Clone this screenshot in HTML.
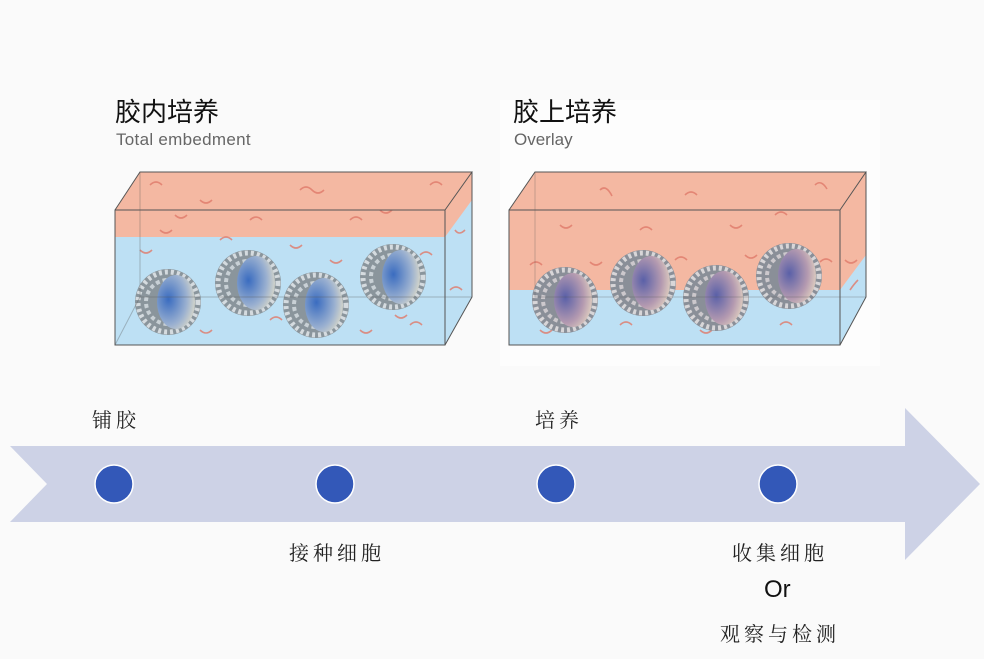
<!DOCTYPE html>
<html><head><meta charset="utf-8"><style>
html,body{margin:0;padding:0;background:#fafafa;}
body{width:984px;height:659px;position:relative;overflow:hidden;font-family:"Liberation Sans","Noto Sans CJK SC",sans-serif;}
.t{position:absolute;white-space:nowrap;}
.cn{font-family:"Liberation Serif","Noto Serif CJK SC",serif;font-size:20px;color:#222;letter-spacing:4px;}
</style></head><body>
<div style="position:absolute;left:500px;top:100px;width:380px;height:266px;background:#fdfdfd;"></div>
<div class="t" style="left:115px;top:92px;font-size:26px;color:#111;">胶内培养</div>
<div class="t" style="left:116px;top:130px;font-size:17px;color:#666;letter-spacing:0.3px;">Total embedment</div>
<div class="t" style="left:513px;top:92px;font-size:26px;color:#111;">胶上培养</div>
<div class="t" style="left:514px;top:130px;font-size:17px;color:#666;">Overlay</div>
<svg width="984" height="659" style="position:absolute;left:0;top:0">
<defs>
<radialGradient id="nuc" cx="0.3" cy="0.45" r="0.8"><stop offset="0" stop-color="#3a6cc0"/><stop offset="0.6" stop-color="#9ab0d0"/><stop offset="1" stop-color="#e8e2c8"/></radialGradient>
<radialGradient id="nuc2" cx="0.3" cy="0.45" r="0.8"><stop offset="0" stop-color="#5a60a8"/><stop offset="0.6" stop-color="#b49ab0"/><stop offset="1" stop-color="#eadcc4"/></radialGradient>
<g id="cell"><circle r="33" fill="#8a959c"/><circle r="30" fill="none" stroke="#d5dbdf" stroke-width="5" stroke-dasharray="3 3"/><circle r="22" fill="none" stroke="#c8d0d5" stroke-width="4" stroke-dasharray="4 3"/><ellipse cx="8" cy="0" rx="19" ry="27" fill="url(#nuc)"/></g>
<g id="cell2"><circle r="33" fill="#8a8f98"/><circle r="30" fill="none" stroke="#d8d6d8" stroke-width="5" stroke-dasharray="3 3"/><circle r="22" fill="none" stroke="#ccc8cc" stroke-width="4" stroke-dasharray="4 3"/><ellipse cx="8" cy="0" rx="19" ry="27" fill="url(#nuc2)"/></g>
</defs>
<polygon points="140,172 472,172 472,297 445,345 115,345 115,210" fill="#bde0f4"/>
<polygon points="140,172 472,172 472,200 445,237 115,237 115,210" fill="#f4b8a2"/>
<g stroke="#e07a6a" stroke-width="1.6" fill="none" opacity="0.8">
<path d="M150,185 q6,-6 12,0"/><path d="M200,200 q6,6 12,0"/><path d="M300,190 q6,-6 12,0 q6,6 12,0"/><path d="M380,210 q6,6 12,0"/><path d="M430,185 q6,-6 12,0"/><path d="M160,230 q6,6 12,0"/><path d="M250,220 q6,-6 12,0"/><path d="M330,260 q6,6 12,0"/><path d="M420,255 q6,-6 12,0"/><path d="M200,330 q6,6 12,0"/><path d="M270,320 q6,-6 12,0"/><path d="M360,330 q6,6 12,0"/><path d="M410,325 q6,-6 12,0"/><path d="M140,250 q6,6 12,0"/><path d="M450,290 q6,-6 12,0"/>
<path d="M175,215 q6,6 12,0"/><path d="M220,240 q6,-6 12,0"/><path d="M290,245 q6,6 12,0"/><path d="M350,220 q6,-6 12,0"/><path d="M240,310 q6,6 12,0"/><path d="M395,315 q6,6 12,0"/><path d="M455,230 q4,6 10,0"/>
</g>
<use href="#cell" x="168" y="302"/><use href="#cell" x="248" y="283"/><use href="#cell" x="316" y="305"/><use href="#cell" x="393" y="277"/>
<g stroke="#555" stroke-width="1" fill="none">
<rect x="115" y="210" width="330" height="135"/><polyline points="115,210 140,172 472,172 445,210"/><polyline points="472,172 472,297 445,345"/>
<polyline points="140,172 140,297 472,297" stroke-opacity="0.35"/><line x1="140" y1="297" x2="115" y2="345" stroke-opacity="0.35"/>
</g>
<polygon points="535,172 866,172 866,297 840,345 509,345 509,210" fill="#bde0f4"/>
<polygon points="535,172 866,172 866,255 840,290 509,290 509,210" fill="#f4b8a2"/>
<g stroke="#e07a6a" stroke-width="1.6" fill="none" opacity="0.8">
<path d="M600,190 q6,-6 12,6"/><path d="M685,195 q6,-6 12,0"/><path d="M815,185 q6,-6 12,4"/><path d="M560,225 q6,6 12,0"/><path d="M640,230 q6,-6 12,0"/><path d="M730,225 q6,6 12,0"/><path d="M775,215 q6,-6 12,0"/><path d="M540,330 q6,6 12,0"/><path d="M620,325 q6,-6 12,0"/><path d="M700,330 q6,6 12,0"/><path d="M780,325 q6,-6 12,0"/><path d="M845,260 q6,6 12,0"/><path d="M850,290 q4,-6 8,-10"/>
<path d="M530,265 q6,-6 12,0"/><path d="M590,262 q6,6 12,0"/><path d="M675,260 q6,-6 12,0"/><path d="M745,255 q6,6 12,0"/><path d="M820,262 q6,-6 12,0"/>
</g>
<use href="#cell2" x="565" y="300"/><use href="#cell2" x="643" y="283"/><use href="#cell2" x="716" y="298"/><use href="#cell2" x="789" y="276"/>
<g stroke="#555" stroke-width="1" fill="none">
<rect x="509" y="210" width="331" height="135"/><polyline points="509,210 535,172 866,172 840,210"/><polyline points="866,172 866,297 840,345"/>
<polyline points="535,172 535,297 866,297" stroke-opacity="0.3"/>
</g>
<polygon points="10,446 905,446 905,408 980,484 905,560 905,522 10,522 47,484" fill="#cdd2e6"/>
<g fill="#3358b8" stroke="#fff" stroke-width="1.5">
<circle cx="114" cy="484" r="19"/><circle cx="335" cy="484" r="19"/><circle cx="556" cy="484" r="19"/><circle cx="778" cy="484" r="19"/>
</g>
</svg>
<div class="t cn" style="left:92px;top:404px;">铺胶</div>
<div class="t cn" style="left:535px;top:404px;">培养</div>
<div class="t cn" style="left:289px;top:537px;">接种细胞</div>
<div class="t cn" style="left:732px;top:537px;">收集细胞</div>
<div class="t" style="left:764px;top:576px;font-size:24px;color:#111;">Or</div>
<div class="t cn" style="left:720px;top:618px;">观察与检测</div>
</body></html>
